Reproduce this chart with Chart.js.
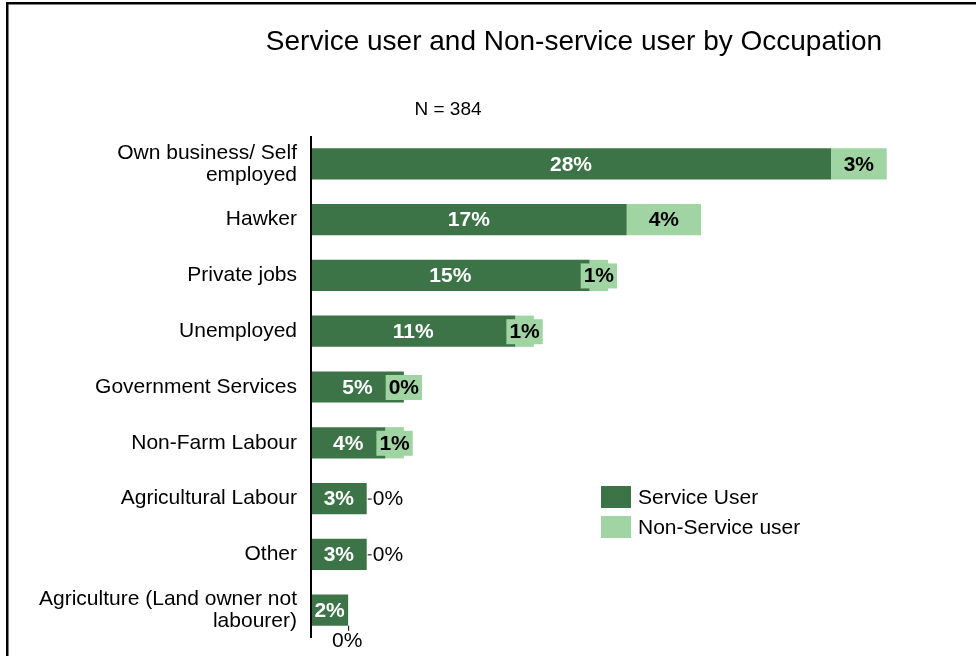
<!DOCTYPE html>
<html>
<head>
<meta charset="utf-8">
<script src="https://cdn.jsdelivr.net/npm/chart.js@4/dist/chart.umd.min.js"></script>
<style>
  body { margin: 0; background: #fff; }
</style>
</head>
<body>
<canvas id="occChart" width="976" height="656"></canvas>
<script>
var occupations = [
  ['Own business/ Self', 'employed'],
  'Hawker',
  'Private jobs',
  'Unemployed',
  'Government Services',
  'Non-Farm Labour',
  'Agricultural Labour',
  'Other',
  ['Agriculture (Land owner not', 'labourer)']
];
var serviceUser = [28, 17, 15, 11, 5, 4, 3, 3, 2];
var nonServiceUser = [3, 4, 1, 1, 0, 1, 0, 0, 0];
var seriesNames = ['Service User', 'Non-Service user'];
var chartTitle = 'Service user and Non-service user by Occupation';
var sampleNote = 'N = 384';

var DARK = '#3c7447';
var LIGHT = '#a1d4a3';
var FONT = "'Liberation Sans', Arial, sans-serif";

Chart.defaults.font.family = FONT;
Chart.defaults.color = '#000';

// frame, title, note, labels and legend drawn on the canvas
var decorations = {
  id: 'decorations',
  beforeDraw: function(chart) {
    var ctx = chart.ctx;
    ctx.save();
    ctx.fillStyle = '#fff';
    ctx.fillRect(0, 0, chart.width, chart.height);
    ctx.fillStyle = '#000';
    ctx.fillRect(6, 2, 2.5, chart.height);
    ctx.fillRect(6, 2, chart.width, 2.5);
    ctx.restore();
  },
  afterDraw: function(chart) {
    var ctx = chart.ctx;
    var area = chart.chartArea;
    ctx.save();

    // y axis line
    ctx.fillStyle = '#000';
    ctx.fillRect(area.left - 1, area.top, 2, area.bottom - area.top);

    ctx.textAlign = 'center';
    ctx.textBaseline = 'middle';
    ctx.font = '28px ' + FONT;
    ctx.fillText(chartTitle, 574, 42);
    ctx.font = '19px ' + FONT;
    ctx.fillText(sampleNote, 448, 110);

    var x = chart.scales.x;
    var metaS = chart.getDatasetMeta(0);
    var metaN = chart.getDatasetMeta(1);

    // service user values
    ctx.font = 'bold 21px ' + FONT;
    ctx.fillStyle = '#fff';
    metaS.data.forEach(function(bar, i) {
      var cx = (x.getPixelForValue(0) + x.getPixelForValue(serviceUser[i])) / 2;
      ctx.fillText(serviceUser[i] + '%', cx, bar.y + 1);
    });

    // non-service user values
    metaN.data.forEach(function(bar, i) {
      var start = x.getPixelForValue(serviceUser[i]);
      var end = x.getPixelForValue(serviceUser[i] + nonServiceUser[i]);
      var txt = nonServiceUser[i] + '%';
      if (i <= 5) {
        ctx.font = 'bold 21px ' + FONT;
        var w = ctx.measureText(txt).width + 6;
        var cx = (start + end) / 2;
        ctx.fillStyle = LIGHT;
        ctx.fillRect(cx - w / 2, bar.y - 12, w, 25);
        ctx.fillStyle = '#000';
        ctx.fillText(txt, cx, bar.y + 1);
      } else if (i < 8) {
        ctx.font = '21px ' + FONT;
        ctx.fillStyle = '#000';
        ctx.fillRect(end + 1, bar.y, 4, 1);
        ctx.textAlign = 'left';
        ctx.fillText(txt, end + 6, bar.y + 1);
        ctx.textAlign = 'center';
      } else {
        ctx.font = '21px ' + FONT;
        ctx.fillStyle = '#000';
        ctx.fillRect(end, bar.y + bar.height / 2, 1, 5);
        ctx.fillText(txt, end - 1, bar.y + bar.height / 2 + 15);
      }
    });

    // legend
    var colors = [DARK, LIGHT];
    ctx.font = '21px ' + FONT;
    ctx.textAlign = 'left';
    seriesNames.forEach(function(name, k) {
      var top = 486 + k * 30;
      ctx.fillStyle = colors[k];
      ctx.fillRect(601, top, 30, 22);
      ctx.fillStyle = '#000';
      ctx.fillText(name, 638, top + 12);
    });

    ctx.restore();
  }
};

new Chart(document.getElementById('occChart'), {
  type: 'bar',
  data: {
    labels: occupations,
    datasets: [{
      label: seriesNames[0],
      data: serviceUser,
      backgroundColor: DARK,
      barPercentage: 0.56,
      categoryPercentage: 1
    }, {
      label: seriesNames[1],
      data: nonServiceUser,
      backgroundColor: LIGHT,
      barPercentage: 0.56,
      categoryPercentage: 1
    }]
  },
  options: {
    indexAxis: 'y',
    responsive: false,
    animation: false,
    layout: { padding: { left: 0, right: 15, top: 136, bottom: 18 } },
    plugins: {
      legend: { display: false },
      title: { display: false },
      tooltip: { enabled: false }
    },
    scales: {
      x: {
        stacked: true,
        min: 0,
        max: 35,
        display: false
      },
      y: {
        stacked: true,
        grid: { display: false, drawTicks: false },
        border: { display: false },
        ticks: {
          padding: 14,
          font: { size: 21, lineHeight: 1.05 },
          color: '#000'
        },
        afterFit: function(scale) {
          scale.width = 311;
          scale.paddingTop = 0;
          scale.paddingBottom = 0;
        }
      }
    }
  },
  plugins: [decorations]
});
</script>
</body>
</html>
